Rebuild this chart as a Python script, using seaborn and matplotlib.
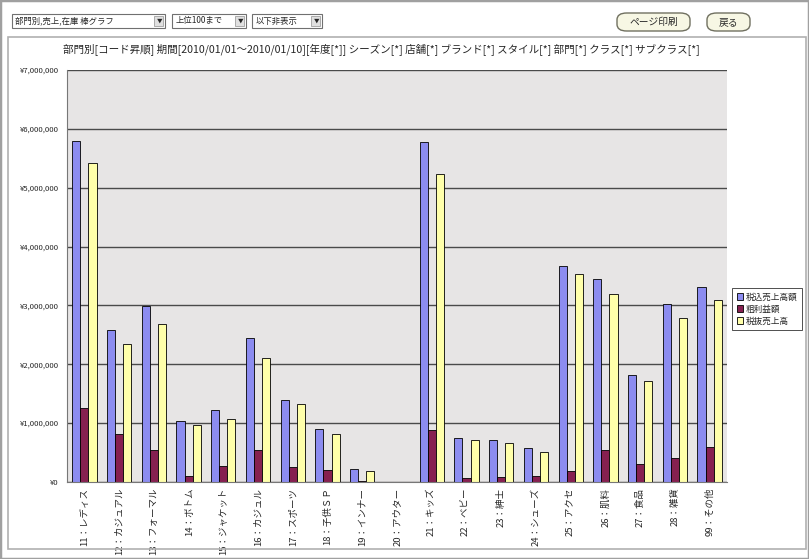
import numpy as np
import pandas as pd
import seaborn as sns
import matplotlib.pyplot as plt
from matplotlib.patches import Rectangle, FancyBboxPatch
from matplotlib.ticker import FuncFormatter

# 部門別 売上・在庫 棒グラフ

categories = ["11：レディス", "12：カジュアル", "13：フォーマル", "14：ボトム", "15：ジャケット",
              "16：カジュル", "17：スポーツ", "18：子供ＳＰ", "19：インナー", "20：アウター",
              "21：キッズ", "22：ベビー", "23：紳士", "24：シューズ", "25：アクセ",
              "26：肌料", "27：食品", "28：雑貨", "99：その他"]
series_names = ["税込売上高額", "粗利益額", "税抜売上高"]
sales_gross = [5790000, 2590000, 2990000, 1030000, 1230000, 2450000, 1390000, 900000, 215000, np.nan,
               5770000, 740000, 710000, 580000, 3670000, 3450000, 1810000, 3030000, 3320000]
profit = [1260000, 810000, 550000, 110000, 280000, 550000, 255000, 210000, 20000, np.nan,
          890000, 60000, 85000, 100000, 180000, 540000, 310000, 410000, 600000]
sales_net = [5420000, 2340000, 2690000, 975000, 1070000, 2110000, 1330000, 810000, 180000, np.nan,
             5240000, 710000, 670000, 510000, 3540000, 3190000, 1710000, 2790000, 3090000]
colors = ["#8C8CF0", "#862050", "#FFFFAA"]

title = ("部門別[コード昇順] 期間[2010/01/01～2010/01/10][年度[*]] シーズン[*] 店舗[*] "
         "ブランド[*] スタイル[*] 部門[*] クラス[*] サブクラス[*]")

df = pd.DataFrame({"部門": categories * 3,
                   "系列": sum([[s] * len(categories) for s in series_names], []),
                   "金額": sales_gross + profit + sales_net})

sns.set_style("white")
plt.rcParams['font.family'] = ['Noto Sans CJK JP', 'DejaVu Sans']

W, H = 809, 559
fig = plt.figure(figsize=(W / 100, H / 100), dpi=100)


def fx(x, y):
    return x / W, 1 - y / H


# 画面の枠
fig.patches.append(Rectangle((0, 0), 1, 1, transform=fig.transFigure, fill=False,
                             edgecolor="#a0a0a0", lw=2.5))
x0, y0 = fx(8, 549)
x1, y1 = fx(806, 37)
fig.patches.append(Rectangle((x0, y0), x1 - x0, y1 - y0, transform=fig.transFigure, fill=False,
                             edgecolor="#b0b0b0", lw=1.2))


def dropdown(xl, xr, yt, yb, text):
    a, b = fx(xl, yb)
    c, d = fx(xr, yt)
    fig.patches.append(Rectangle((a, b), c - a, d - b, transform=fig.transFigure,
                                 facecolor="white", edgecolor="#707070", lw=0.8))
    e, _ = fx(xr - 11, yb)
    fig.patches.append(Rectangle((e, b + 0.003), c - e - 0.002, d - b - 0.006, transform=fig.transFigure,
                                 facecolor="#e0e0e0", edgecolor="#909090", lw=0.5))
    fig.text((e + c) / 2, (b + d) / 2, "▼", fontsize=4, ha="center", va="center")
    fig.text(a + 0.004, (b + d) / 2, text, fontsize=6, ha="left", va="center")


dropdown(12, 165, 14, 28, "部門別,売上,在庫 棒グラフ")
dropdown(172, 246, 14, 28, "上位100まで")
dropdown(252, 322, 14, 28, "以下非表示")


def button(xl, xr, yt, yb, text):
    a, b = fx(xl, yb)
    c, d = fx(xr, yt)
    fig.patches.append(FancyBboxPatch((a, b), c - a, d - b, transform=fig.transFigure,
                                      boxstyle="round,pad=0,rounding_size=0.012",
                                      facecolor="#F7F7E4", edgecolor="#707060", lw=1.0))
    fig.text((a + c) / 2, (b + d) / 2, text, fontsize=7, ha="center", va="center")


button(617, 690, 13, 31, "ページ印刷")
button(707, 750, 13, 31, "戻る")

fig.text(381 / W, 1 - 50 / H, title, fontsize=7.6, ha="center", va="center")

ax = fig.add_axes([67 / W, (H - 482) / H, 660 / W, 412 / H])
sns.barplot(data=df, x="部門", y="金額", hue="系列", order=categories, hue_order=series_names,
            palette=colors, edgecolor="black", linewidth=0.6, width=0.7, saturation=1, ax=ax)

ax.set_facecolor("#E7E5E5")
ax.set_ylim(0, 7000000)
ax.set_yticks(np.arange(0, 7000001, 1000000))
ax.yaxis.set_major_formatter(FuncFormatter(lambda v, p: f"¥{v:,.0f}"))
ax.grid(axis="y", color="#4a4a4a", lw=1.0)
ax.set_axisbelow(True)
ax.set_xlim(-0.5, len(categories) - 0.5)
ax.set_xlabel("")
ax.set_ylabel("")
ax.tick_params(axis="y", labelsize=5.6, length=4, color="#555", pad=2)
ax.tick_params(axis="x", labelsize=6.8, length=0, pad=4)
ax.set_xticks(np.arange(-0.5, len(categories), 1), minor=True)
ax.tick_params(axis="x", which="minor", length=3, color="#777")
for lab in ax.get_xticklabels():
    lab.set_rotation(90)
for s in ["top", "right"]:
    ax.spines[s].set_visible(False)
for s in ["left", "bottom"]:
    ax.spines[s].set_color("#777")
    ax.spines[s].set_linewidth(0.8)

leg = ax.legend(loc="center left", bbox_to_anchor=(1.008, 0.42), fontsize=6.2, frameon=True,
                fancybox=False, edgecolor="black", handlelength=0.8, handleheight=0.8,
                handletextpad=0.3, labelspacing=0.35, borderpad=0.5, borderaxespad=0)
leg.get_frame().set_linewidth(0.6)

fig.savefig("out.png", dpi=100)
